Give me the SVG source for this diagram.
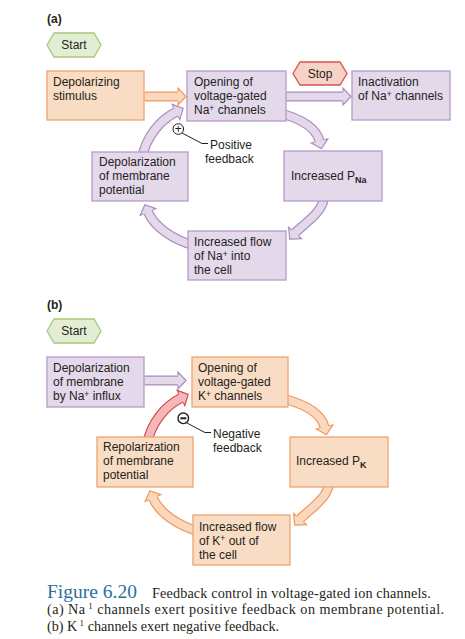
<svg xmlns="http://www.w3.org/2000/svg" width="465" height="639" viewBox="0 0 465 639">
<style>
  .t{font-family:"Liberation Sans",Arial,sans-serif;font-size:12px;fill:#231f20}
  .b{font-weight:bold}
  .cap{font-family:"Liberation Serif","Times New Roman",serif;fill:#231f20}
  .pbox{fill:#e4d8eb;stroke:#b59bc7;stroke-width:1.3}
  .obox{fill:#f9dcc4;stroke:#f2a36e;stroke-width:1.3}
  .start{fill:#e3edd3;stroke:#a8c87c;stroke-width:1.3}
  .stop{fill:#f6d2c7;stroke:#d9534f;stroke-width:1.3}
  .po{fill:none;stroke:#a98cbd;stroke-width:10}
  .pi{fill:none;stroke:#e4d8eb;stroke-width:7.6}
  .oo{fill:none;stroke:#f0975c;stroke-width:10}
  .oi{fill:none;stroke:#fad8be;stroke-width:7.6}
  .ro{fill:none;stroke:#d9485a;stroke-width:10}
  .ri{fill:none;stroke:#f4b9b6;stroke-width:7.6}
  .lead{fill:none;stroke:#231f20;stroke-width:1}
</style>
<defs>
  <marker id="hP" markerUnits="userSpaceOnUse" orient="auto" refX="0" refY="0" markerWidth="20" markerHeight="20" viewBox="-2 -10 20 20" overflow="visible">
    <path d="M0,-5 L0,-8.5 L8,0 L0,8.5 L0,5" fill="#e4d8eb" stroke="#a98cbd" stroke-width="1.2"/>
  </marker>
  <marker id="hO" markerUnits="userSpaceOnUse" orient="auto" refX="0" refY="0" markerWidth="20" markerHeight="20" viewBox="-2 -10 20 20" overflow="visible">
    <path d="M0,-5 L0,-8.5 L8,0 L0,8.5 L0,5" fill="#fad8be" stroke="#f0975c" stroke-width="1.2"/>
  </marker>
  <marker id="hR" markerUnits="userSpaceOnUse" orient="auto" refX="0" refY="0" markerWidth="20" markerHeight="20" viewBox="-2 -10 20 20" overflow="visible">
    <path d="M0,-5 L0,-8.5 L8,0 L0,8.5 L0,5" fill="#f4b9b6" stroke="#d9485a" stroke-width="1.2"/>
  </marker>
</defs>

<g id="connectors">
  <!-- (a) -->
  <path class="oo" d="M144.5,96.5 H178" marker-end="url(#hO)"/>
  <path class="oi" d="M144.5,96.5 H178"/>
  <path class="po" d="M286.5,96.5 H343" marker-end="url(#hP)"/>
  <path class="pi" d="M286.5,96.5 H343"/>
  <path class="po" d="M276,112 C300,118 316,127 319.5,141" marker-end="url(#hP)"/>
  <path class="pi" d="M276,112 C300,118 316,127 319.5,141"/>
  <path class="po" d="M324,195 C325,212 302,225 295,233" marker-end="url(#hP)"/>
  <path class="pi" d="M324,195 C325,212 302,225 295,233"/>
  <path class="po" d="M196,246 C172,240 154,226 148,212" marker-end="url(#hP)"/>
  <path class="pi" d="M196,246 C172,240 154,226 148,212"/>
  <path class="po" d="M142,158 C146,137 160,120 176,112" marker-end="url(#hP)"/>
  <path class="pi" d="M142,158 C146,137 160,120 176,112"/>
  <!-- (b) -->
  <path class="po" d="M144.5,380.5 H178" marker-end="url(#hP)"/>
  <path class="pi" d="M144.5,380.5 H178"/>
  <path class="oo" d="M281,398 C305,404 321,413 324.5,427" marker-end="url(#hO)"/>
  <path class="oi" d="M281,398 C305,404 321,413 324.5,427"/>
  <path class="oo" d="M329,481 C330,498 307,511 300,519" marker-end="url(#hO)"/>
  <path class="oi" d="M329,481 C330,498 307,511 300,519"/>
  <path class="oo" d="M201,532 C177,526 159,512 153,498" marker-end="url(#hO)"/>
  <path class="oi" d="M201,532 C177,526 159,512 153,498"/>
  <path class="ro" d="M147,444 C151,423 165,406 181,398" marker-end="url(#hR)"/>
  <path class="ri" d="M147,444 C151,423 165,406 181,398"/>
</g>

<text class="t b" x="47" y="23">(a)</text>

<g id="startA">
  <polygon class="start" points="47,45 54,33 94,33 101,45 94,57 54,57"/>
  <text class="t" x="74" y="49" text-anchor="middle">Start</text>
</g>
<g id="depolStimulus">
  <rect class="obox" x="47" y="71" width="97" height="49"/>
  <text class="t" x="53" y="86">Depolarizing</text>
  <text class="t" x="53" y="100">stimulus</text>
</g>
<g id="openingNa">
  <rect class="pbox" x="187" y="71" width="99" height="50"/>
  <text class="t" x="194" y="86">Opening of</text>
  <text class="t" x="194" y="100">voltage-gated</text>
  <text class="t" x="194" y="114">Na<tspan font-size="8.5" dy="-3">+</tspan><tspan dy="3"> channels</tspan></text>
</g>
<g id="stop">
  <polygon class="stop" points="293,73.5 300,62 340,62 347,73.5 340,85 300,85"/>
  <text class="t" x="320" y="77.5" text-anchor="middle">Stop</text>
</g>
<g id="inactivation">
  <rect class="pbox" x="352" y="71" width="98" height="49"/>
  <text class="t" x="358" y="86">Inactivation</text>
  <text class="t" x="358" y="100">of Na<tspan font-size="8.5" dy="-3">+</tspan><tspan dy="3"> channels</tspan></text>
</g>
<g id="increasedPNa">
  <rect class="pbox" x="284" y="151" width="98" height="50"/>
  <text class="t" x="291" y="180">Increased P<tspan class="b" font-size="9" dy="3">Na</tspan></text>
</g>
<g id="increasedFlowNa">
  <rect class="pbox" x="188" y="231" width="98" height="49"/>
  <text class="t" x="194" y="246">Increased flow</text>
  <text class="t" x="194" y="260">of Na<tspan font-size="8.5" dy="-3">+</tspan><tspan dy="3"> into</tspan></text>
  <text class="t" x="194" y="274">the cell</text>
</g>
<g id="depolMembrane">
  <rect class="pbox" x="92" y="152" width="96" height="49"/>
  <text class="t" x="99" y="166">Depolarization</text>
  <text class="t" x="99" y="180">of membrane</text>
  <text class="t" x="99" y="194">potential</text>
</g>
<g id="positiveFeedback">
  <circle cx="178.3" cy="129" r="5.3" fill="#fff" stroke="#231f20" stroke-width="1"/>
  <text class="t" x="178.3" y="132.6" text-anchor="middle" font-size="10">+</text>
  <polyline class="lead" points="182,133 202,143.5 208,143.5"/>
  <text class="t" x="210" y="149">Positive</text>
  <text class="t" x="205" y="163">feedback</text>
</g>

<text class="t b" x="47" y="309">(b)</text>

<g id="startB">
  <polygon class="start" points="47,331 54,319 94,319 101,331 94,343 54,343"/>
  <text class="t" x="74" y="335" text-anchor="middle">Start</text>
</g>
<g id="depolInflux">
  <rect class="pbox" x="47" y="357" width="97" height="50"/>
  <text class="t" x="53" y="372">Depolarization</text>
  <text class="t" x="53" y="386">of membrane</text>
  <text class="t" x="53" y="400">by Na<tspan font-size="8.5" dy="-3">+</tspan><tspan dy="3"> influx</tspan></text>
</g>
<g id="openingK">
  <rect class="obox" x="192" y="357" width="96" height="50"/>
  <text class="t" x="198" y="372">Opening of</text>
  <text class="t" x="198" y="386">voltage-gated</text>
  <text class="t" x="198" y="400">K<tspan font-size="8.5" dy="-3">+</tspan><tspan dy="3"> channels</tspan></text>
</g>
<g id="increasedPK">
  <rect class="obox" x="290" y="437" width="98" height="50"/>
  <text class="t" x="296" y="465">Increased P<tspan class="b" font-size="9" dy="3">K</tspan></text>
</g>
<g id="increasedFlowK">
  <rect class="obox" x="193" y="515" width="97" height="50"/>
  <text class="t" x="199" y="531">Increased flow</text>
  <text class="t" x="199" y="545">of K<tspan font-size="8.5" dy="-4.5">+</tspan><tspan dy="4.5"> out of</tspan></text>
  <text class="t" x="199" y="559">the cell</text>
</g>
<g id="repolarization">
  <rect class="obox" x="97" y="437" width="96" height="50"/>
  <text class="t" x="103" y="451">Repolarization</text>
  <text class="t" x="103" y="465">of membrane</text>
  <text class="t" x="103" y="479">potential</text>
</g>
<g id="negativeFeedback">
  <circle cx="183.3" cy="418.3" r="5.3" fill="#fff" stroke="#231f20" stroke-width="1.4"/>
  <line x1="180.3" y1="418.3" x2="186.3" y2="418.3" stroke="#231f20" stroke-width="2"/>
  <polyline class="lead" points="186,422.5 205,432.5 211,432.5"/>
  <text class="t" x="213" y="438">Negative</text>
  <text class="t" x="213" y="452">feedback</text>
</g>

<g id="caption">
  <text class="cap" x="47" y="598" font-size="19.5" fill="#2d6f9a" style="fill:#2d6f9a">Figure 6.20</text>
  <text class="cap" x="152" y="598" font-size="14.2" letter-spacing="0.15">Feedback control in voltage-gated ion channels.</text>
  <text class="cap" x="47" y="614" font-size="14.2" letter-spacing="0.45">(a) Na<tspan font-size="9" dy="-5"> 1</tspan><tspan dy="5"> channels exert positive feedback on membrane potential.</tspan></text>
  <text class="cap" x="47" y="631" font-size="14.2">(b) K<tspan font-size="9" dy="-5"> 1</tspan><tspan dy="5"> channels exert negative feedback.</tspan></text>
</g>
</svg>
